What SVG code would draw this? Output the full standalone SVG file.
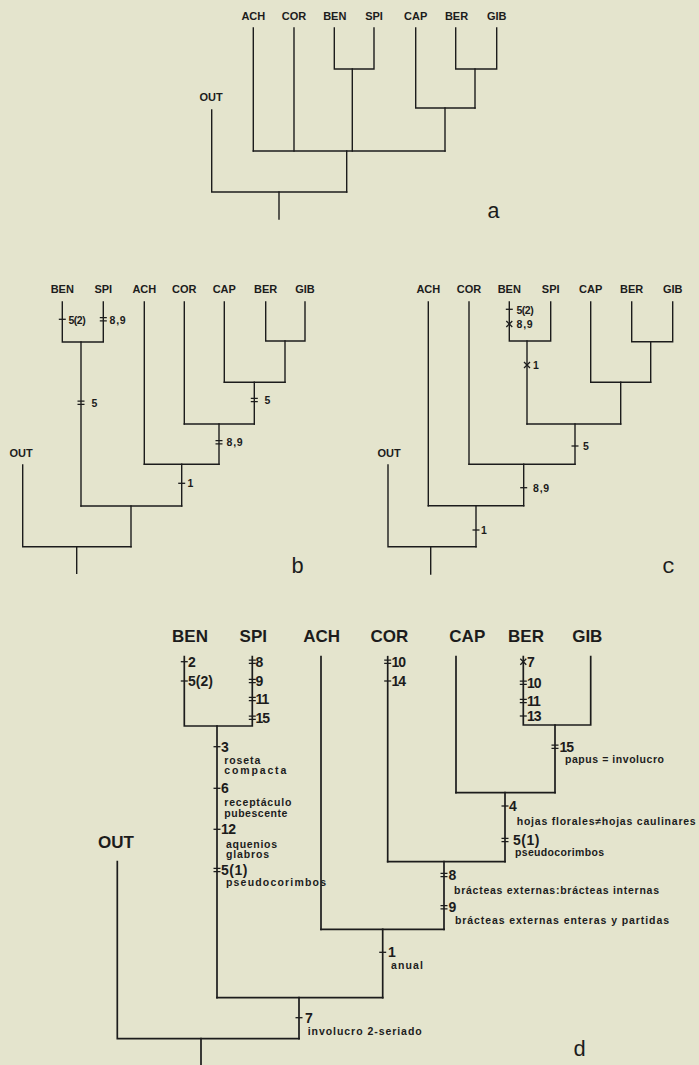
<svg xmlns="http://www.w3.org/2000/svg" width="699" height="1065" viewBox="0 0 699 1065">
<style>
.ln{fill:none;stroke:#1c1c1c;stroke-width:1.4;stroke-linecap:square}
.lnd{fill:none;stroke:#1c1c1c;stroke-width:1.7;stroke-linecap:square}
.tk{fill:none;stroke:#1c1c1c;stroke-width:1.3}
.lab{font-family:"Liberation Sans",Arial,sans-serif;font-weight:bold;font-size:11px;fill:#1c1c1c;text-anchor:middle}
.labd{font-family:"Liberation Sans",Arial,sans-serif;font-weight:bold;font-size:17px;fill:#1c1c1c;text-anchor:middle}
.num{font-family:"Liberation Sans",Arial,sans-serif;font-weight:bold;font-size:10.5px;fill:#1c1c1c}
.numd{font-family:"Liberation Sans",Arial,sans-serif;font-weight:bold;font-size:14px;fill:#1c1c1c}
.sm{font-family:"Liberation Sans",Arial,sans-serif;font-weight:bold;font-size:10.5px;fill:#1c1c1c}
.pl{font-family:"Liberation Mono","Courier New",monospace;font-size:22px;fill:#1c1c1c}
</style>
<defs>
<path id="t1" class="tk" d="M-3.5,0H3.5"/>
<path id="t2" class="tk" d="M-3.5,-1.6H3.5M-3.5,1.6H3.5"/>
<path id="tx" class="tk" d="M-3,-3L3,3M-3,3L3,-3"/>
</defs>
<rect width="699" height="1065" fill="#e4e4cd"/>

<!-- ===== Panel a ===== -->
<g id="panel-a">
<g id="a-ACH"><text class="lab" x="253.3" y="20">ACH</text></g>
<g id="a-COR"><text class="lab" x="294" y="20">COR</text></g>
<g id="a-BEN"><text class="lab" x="334.8" y="20">BEN</text></g>
<g id="a-SPI"><text class="lab" x="374" y="20">SPI</text></g>
<g id="a-CAP"><text class="lab" x="415.7" y="20">CAP</text></g>
<g id="a-BER"><text class="lab" x="456.5" y="20">BER</text></g>
<g id="a-GIB"><text class="lab" x="496.7" y="20">GIB</text></g>
<g id="a-OUT"><text class="lab" x="211" y="101">OUT</text></g>
<g id="a-label"><text class="pl" x="487" y="218">a</text></g>
</g>

<!-- ===== Panel b ===== -->
<g id="panel-b">
<g id="b-BEN"><text class="lab" x="62.3" y="292.5">BEN</text></g>
<g id="b-SPI"><text class="lab" x="103.3" y="292.5">SPI</text></g>
<g id="b-ACH"><text class="lab" x="144.3" y="292.5">ACH</text></g>
<g id="b-COR"><text class="lab" x="184.3" y="292.5">COR</text></g>
<g id="b-CAP"><text class="lab" x="224.3" y="292.5">CAP</text></g>
<g id="b-BER"><text class="lab" x="265.7" y="292.5">BER</text></g>
<g id="b-GIB"><text class="lab" x="305" y="292.5">GIB</text></g>
<g id="b-OUT"><text class="lab" x="21" y="457">OUT</text></g>
<g id="b-label"><text class="pl" x="291" y="573">b</text></g>
</g>

<!-- ===== Panel c ===== -->
<g id="panel-c">
<g id="c-ACH"><text class="lab" x="428.3" y="292.5">ACH</text></g>
<g id="c-COR"><text class="lab" x="469" y="292.5">COR</text></g>
<g id="c-BEN"><text class="lab" x="509.3" y="292.5">BEN</text></g>
<g id="c-SPI"><text class="lab" x="550.7" y="292.5">SPI</text></g>
<g id="c-CAP"><text class="lab" x="590.7" y="292.5">CAP</text></g>
<g id="c-BER"><text class="lab" x="631.7" y="292.5">BER</text></g>
<g id="c-GIB"><text class="lab" x="672.7" y="292.5">GIB</text></g>
<g id="c-OUT"><text class="lab" x="389" y="457">OUT</text></g>
<g id="c-label"><text class="pl" x="662" y="573">c</text></g>
</g>

<!-- ===== Panel d ===== -->
<g id="panel-d">
<g id="d-BEN"><text class="labd" x="190" y="642.3">BEN</text></g>
<g id="d-SPI"><text class="labd" x="253.3" y="642.3">SPI</text></g>
<g id="d-ACH"><text class="labd" x="321.7" y="642.3">ACH</text></g>
<g id="d-COR"><text class="labd" x="389.3" y="642.3">COR</text></g>
<g id="d-CAP"><text class="labd" x="467.3" y="642.3">CAP</text></g>
<g id="d-BER"><text class="labd" x="526" y="642.3">BER</text></g>
<g id="d-GIB"><text class="labd" x="587.3" y="642.3">GIB</text></g>
<g id="d-OUT"><text class="labd" x="116" y="848">OUT</text></g>
<g id="d-label"><text class="pl" x="573" y="1056">d</text></g>
</g>

<!-- ===== Connectors ===== -->
<g id="connectors">
<g id="conn-a" class="ln">
<path d="M253.3,28V151"/>
<path d="M294,28V151"/>
<path d="M334.3,28V69H374V28"/><path d="M352.3,69V151"/>
<path d="M455.7,28V69H496.7V28"/><path d="M475,69V108"/>
<path d="M415.7,28V108H475"/><path d="M445,108V151"/>
<path d="M253.3,151H445"/><path d="M346.7,151V192"/>
<path d="M211.7,110V192H346.7"/><path d="M279,192V219"/>
</g>
<g id="conn-b" class="ln">
<path d="M62.3,302V342H103.3V302"/><path d="M81,342V506"/>
<path d="M144.3,302V464.3"/>
<path d="M184.3,302V424"/>
<path d="M224.3,302V382.3"/>
<path d="M265.7,302V341H305V302"/><path d="M285,341V382.3"/>
<path d="M224.3,382.3H285"/><path d="M254.3,382.3V424"/>
<path d="M184.3,424H254.3"/><path d="M219,424V464.3"/>
<path d="M144.3,464.3H219"/><path d="M181.7,464.3V506"/>
<path d="M81,506H181.7"/><path d="M131,506V546.7"/>
<path d="M22.7,465V546.7H131"/><path d="M76.7,546.7V573.3"/>
</g>
<g id="conn-c" class="ln">
<path d="M428.3,302V505.7"/>
<path d="M469,302V464.3"/>
<path d="M509.3,302V341H550.7V302"/><path d="M527,341V424"/>
<path d="M590.7,302V382.3"/>
<path d="M631.7,302V341.7H672.7V302"/><path d="M650.7,341.7V382.3"/>
<path d="M590.7,382.3H650.7"/><path d="M620.7,382.3V424"/>
<path d="M527,424H620.7"/><path d="M575,424V464.3"/>
<path d="M469,464.3H575"/><path d="M523.7,464.3V505.7"/>
<path d="M428.3,505.7H523.7"/><path d="M476,505.7V546.7"/>
<path d="M388,465V546.7H476"/><path d="M430.7,546.7V574"/>
</g>
<g id="conn-d" class="lnd">
<path d="M184.3,656.7V726H252.3V656.7"/><path d="M217,726V997.7"/>
<path d="M321,656.7V929.3"/>
<path d="M387.7,656.7V861.7"/>
<path d="M456,656.7V792.7"/>
<path d="M523.3,656.7V725H590.7V656.7"/><path d="M555,725V792.7"/>
<path d="M456,792.7H555"/><path d="M505,792.7V861.7"/>
<path d="M387.7,861.7H505"/><path d="M444,861.7V929.3"/>
<path d="M321,929.3H444"/><path d="M382.7,929.3V997.7"/>
<path d="M217,997.7H382.7"/><path d="M299,997.7V1038.7"/>
<path d="M117.3,861.7V1038.7H299"/><path d="M201,1038.7V1065"/>
</g>
</g>

<!-- ===== Character marks b ===== -->
<g id="marks-b">
<use href="#t1" x="62.3" y="319.3"/><text class="num" x="68.5" y="323.5" letter-spacing="-0.5">5(2)</text>
<use href="#t2" x="103.3" y="319.3"/><text class="num" x="109.5" y="323.5" letter-spacing="0.8">8,9</text>
<use href="#t2" x="81" y="402.7"/><text class="num" x="91.5" y="406.5">5</text>
<use href="#t2" x="254.3" y="400"/><text class="num" x="264.5" y="404">5</text>
<use href="#t2" x="219" y="442.3"/><text class="num" x="226.5" y="446.3" letter-spacing="0.8">8,9</text>
<use href="#t1" x="181.7" y="483.3"/><text class="num" x="187.5" y="487.3">1</text>
</g>

<!-- ===== Character marks c ===== -->
<g id="marks-c">
<use href="#t1" x="509.3" y="309.3"/><text class="num" x="516.5" y="313.5" letter-spacing="-0.5">5(2)</text>
<use href="#tx" x="509.3" y="324"/><text class="num" x="516.5" y="328" letter-spacing="0.8">8,9</text>
<use href="#tx" x="527" y="365"/><text class="num" x="533" y="369">1</text>
<use href="#t1" x="575" y="446"/><text class="num" x="583" y="450">5</text>
<use href="#t1" x="523.7" y="487.7"/><text class="num" x="533" y="491.7" letter-spacing="0.8">8,9</text>
<use href="#t1" x="476" y="530"/><text class="num" x="481" y="534">1</text>
</g>

<!-- ===== Character marks d ===== -->
<g id="marks-d">
<use href="#t1" x="184.3" y="661.7"/><text class="numd" x="188" y="666.7">2</text>
<use href="#t1" x="184.3" y="681"/><text class="numd" x="188" y="686">5(2)</text>
<use href="#t2" x="252.3" y="661.7"/><text class="numd" x="255.5" y="666.7">8</text>
<use href="#t2" x="252.3" y="681"/><text class="numd" x="255.5" y="686">9</text>
<use href="#t2" x="252.3" y="699"/><text class="numd" x="255.5" y="704" letter-spacing="-1">11</text>
<use href="#t2" x="252.3" y="717.7"/><text class="numd" x="255.5" y="722.7" letter-spacing="-1">15</text>
<use href="#t2" x="387.7" y="661.7"/><text class="numd" x="391.5" y="666.7" letter-spacing="-1">10</text>
<use href="#t1" x="387.7" y="681"/><text class="numd" x="391.5" y="686" letter-spacing="-1">14</text>
<use href="#tx" x="523.3" y="661.7"/><text class="numd" x="527" y="666.7">7</text>
<use href="#t2" x="523.3" y="682.7"/><text class="numd" x="527" y="687.7" letter-spacing="-1">10</text>
<use href="#t2" x="523.3" y="701"/><text class="numd" x="527" y="706" letter-spacing="-1">11</text>
<use href="#t1" x="523.3" y="716"/><text class="numd" x="527" y="721" letter-spacing="-1">13</text>

<use href="#t1" x="217" y="746.7"/><text class="numd" x="221" y="751.7">3</text>
<text class="sm" x="224.3" y="763.5" textLength="36" lengthAdjust="spacing">roseta</text>
<text class="sm" x="224.3" y="773.8" textLength="62" lengthAdjust="spacing">compacta</text>
<use href="#t1" x="217" y="788.3"/><text class="numd" x="221" y="793.3">6</text>
<text class="sm" x="224.3" y="806.2" textLength="67" lengthAdjust="spacing">receptáculo</text>
<text class="sm" x="224.3" y="817" textLength="63" lengthAdjust="spacing">pubescente</text>
<use href="#t1" x="217" y="829.3"/><text class="numd" x="221" y="834.3" letter-spacing="-0.5">12</text>
<text class="sm" x="226" y="847.5" textLength="51" lengthAdjust="spacing">aquenios</text>
<text class="sm" x="226" y="857.8" textLength="43" lengthAdjust="spacing">glabros</text>
<use href="#t2" x="217" y="870"/><text class="numd" x="221" y="874.5" letter-spacing="0.5">5(1)</text>
<text class="sm" x="226" y="886" textLength="100" lengthAdjust="spacing">pseudocorimbos</text>

<use href="#t2" x="555" y="746.7"/><text class="numd" x="559.5" y="751.7" letter-spacing="-1">15</text>
<text class="sm" x="565" y="762.8" textLength="99" lengthAdjust="spacing">papus = involucro</text>

<use href="#t1" x="505" y="806"/><text class="numd" x="509" y="811">4</text>
<text class="sm" x="516.7" y="825.2" textLength="179" lengthAdjust="spacing">hojas florales≠hojas caulinares</text>
<use href="#t2" x="505" y="840"/><text class="numd" x="513" y="844.5" letter-spacing="0.5">5(1)</text>
<text class="sm" x="515" y="856.2" textLength="89" lengthAdjust="spacing">pseudocorimbos</text>

<use href="#t2" x="444" y="875"/><text class="numd" x="448.5" y="880">8</text>
<text class="sm" x="454" y="893.5" textLength="205" lengthAdjust="spacing">brácteas externas:brácteas internas</text>
<use href="#t2" x="444" y="907.3"/><text class="numd" x="448.5" y="912.3">9</text>
<text class="sm" x="455" y="923.5" textLength="214" lengthAdjust="spacing">brácteas externas enteras y partidas</text>

<use href="#t1" x="382.7" y="952.3"/><text class="numd" x="388" y="957.3">1</text>
<text class="sm" x="391" y="969.2" textLength="32" lengthAdjust="spacing">anual</text>

<use href="#t1" x="299" y="1017.7"/><text class="numd" x="305" y="1022.7">7</text>
<text class="sm" x="307.7" y="1035.2" textLength="114" lengthAdjust="spacing">involucro 2-seriado</text>
</g>
</svg>
